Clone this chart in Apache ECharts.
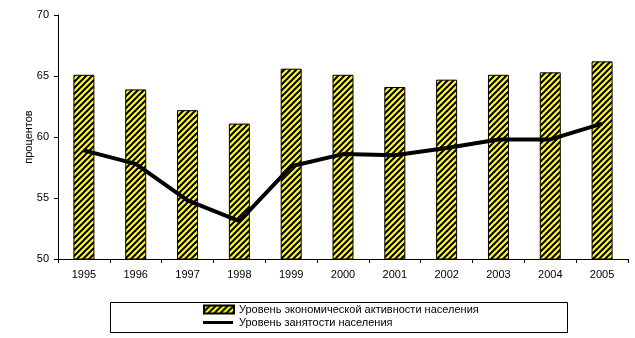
<!DOCTYPE html>
<html>
<head>
<meta charset="utf-8">
<style>html,body{margin:0;padding:0;background:#fff;}#c{width:635px;height:338px;}</style>
<script src="https://cdn.jsdelivr.net/npm/echarts@6/dist/echarts.min.js"></script>
</head>
<body>
<div id="c"></div>
<script>
const years = ['1995','1996','1997','1998','1999','2000','2001','2002','2003','2004','2005'];
const activity = [65.1, 63.9, 62.2, 61.1, 65.6, 65.1, 64.1, 64.7, 65.1, 65.3, 66.2];
const employment = [58.9, 57.8, 54.8, 53.1, 57.6, 58.6, 58.5, 59.1, 59.8, 59.8, 61.1];
const seriesNames = ['Уровень экономической активности населения', 'Уровень занятости населения'];
const yAxisTitle = 'процентов';

// hatch pattern: yellow with black diagonal stripes
const pc = document.createElement('canvas');
pc.width = 6; pc.height = 6;
const g = pc.getContext('2d');
g.fillStyle = '#ffff00';
g.fillRect(0, 0, 6, 6);
g.strokeStyle = '#000';
g.lineWidth = 2;
g.beginPath();
g.moveTo(-1, 7); g.lineTo(7, -1);
g.moveTo(-1, 1); g.lineTo(1, -1);
g.moveTo(5, 7); g.lineTo(7, 5);
g.stroke();
const hatch = { image: pc, repeat: 'repeat' };

const font = 'Arial, "Liberation Sans", sans-serif';
const chart = echarts.init(document.getElementById('c'), null, { renderer: 'canvas' });
chart.setOption({
  animation: false,
  backgroundColor: '#fff',
  textStyle: { fontFamily: font },
  grid: { left: 58, right: 7, top: 15, bottom: 79, containLabel: false },
  xAxis: {
    type: 'category',
    data: years,
    boundaryGap: true,
    axisLine: { lineStyle: { color: '#000', width: 1 } },
    axisTick: { show: true, length: 4, inside: false, alignWithLabel: false, lineStyle: { color: '#000' } },
    axisLabel: { color: '#000', fontSize: 11, fontFamily: font, margin: 10 },
    splitLine: { show: false }
  },
  yAxis: {
    type: 'value',
    min: 50, max: 70, interval: 5,
    name: yAxisTitle,
    nameLocation: 'middle',
    nameGap: 24,
    nameMoveOverlap: false,
    nameRotate: 90,
    nameTextStyle: { color: '#000', fontSize: 11, fontFamily: font },
    axisLine: { show: true, lineStyle: { color: '#000', width: 1 } },
    axisTick: { show: true, length: 4, lineStyle: { color: '#000' } },
    axisLabel: { color: '#000', fontSize: 11, fontFamily: font, margin: 9 },
    splitLine: { show: false }
  },
  graphic: [{
    type: 'rect',
    shape: { x: 110.5, y: 302.5, width: 457, height: 30 },
    style: { fill: '#fff', stroke: '#000', lineWidth: 1 },
    z: -1
  }, {
    type: 'line',
    shape: { x1: 203, y1: 322.5, x2: 233, y2: 322.5 },
    style: { stroke: '#000', lineWidth: 3 },
    z: 10
  }],
  legend: {
    orient: 'vertical',
    left: 203,
    top: 304,
    itemWidth: 30,
    itemHeight: 8,
    itemGap: 2,
    padding: 0,
    textStyle: { color: '#000', fontSize: 11, fontFamily: font, padding: [0, 0, 0, 0] },
    data: [
      { name: seriesNames[0], icon: 'rect' },
      { name: seriesNames[1], icon: 'none' }
    ]
  },
  series: [
    {
      name: seriesNames[0],
      type: 'bar',
      data: activity,
      barWidth: 21,
      itemStyle: { color: hatch, borderColor: '#000', borderWidth: 1 }
    },
    {
      name: seriesNames[1],
      type: 'line',
      data: employment,
      symbol: 'none',
      lineStyle: { color: '#000', width: 4 },
      itemStyle: { color: '#000' },
      z: 3
    }
  ]
});
</script>
</body>
</html>
